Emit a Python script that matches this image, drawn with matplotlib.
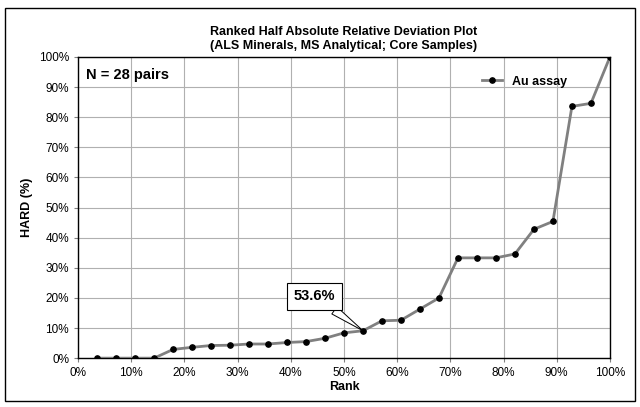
import numpy as np
import matplotlib.pyplot as plt
from matplotlib.ticker import PercentFormatter
from matplotlib.patches import Rectangle

plt.rcParams['font.family'] = ['Liberation Sans', 'DejaVu Sans']

# HARD values (%) ranked, 28 pairs
hard = [0.0, 0.0, 0.0, 0.0, 2.9, 3.6, 4.2, 4.3, 4.7, 4.7, 5.2, 5.5, 6.6, 8.4,
        9.1, 12.4, 12.6, 16.3, 20.0, 33.3, 33.3, 33.3, 34.6, 42.8, 45.4,
        83.6, 84.6, 100.0]
n_pairs = len(hard)
rank = [100.0 * (i + 1) / n_pairs for i in range(n_pairs)]
callout_idx = 14  # rank 53.6%

fig = plt.figure(figsize=(6.4, 4.07), dpi=100)
ax = fig.add_axes([0.122, 0.12, 0.831, 0.74])

ax.plot(rank, hard, color='#808080', lw=2, marker='o', ms=3.8,
        mfc='black', mec='black', label='Au assay', zorder=3)

ax.set_xlim(0, 100)
ax.set_ylim(0, 100)
ax.set_xticks(np.arange(0, 101, 10))
ax.set_yticks(np.arange(0, 101, 10))
ax.xaxis.set_major_formatter(PercentFormatter(decimals=0))
ax.yaxis.set_major_formatter(PercentFormatter(decimals=0))
ax.tick_params(labelsize=8.5, length=3, color='#808080')
ax.grid(True, color='#b0b0b0', lw=0.8)
for s in ax.spines.values():
    s.set_color('black')
    s.set_linewidth(1)

ax.set_xlabel('Rank', fontsize=9, fontweight='bold', labelpad=1)
ax.set_ylabel('HARD (%)', fontsize=9, fontweight='bold', labelpad=4)
ax.set_title('Ranked Half Absolute Relative Deviation Plot\n(ALS Minerals, MS Analytical; Core Samples)',
             fontsize=9, fontweight='bold', pad=6, linespacing=1.15)

ax.text(0.015, 0.965, f'N = {n_pairs} pairs', transform=ax.transAxes,
        fontsize=10.5, fontweight='bold', va='top', ha='left')

leg = ax.legend(loc='upper right', frameon=False, fontsize=9,
                bbox_to_anchor=(0.94, 0.975), handlelength=1.6)
for t in leg.get_texts():
    t.set_fontweight('bold')

xr = rank[callout_idx]
ax.annotate(f'{xr:.1f}%', xy=(xr, hard[callout_idx]), xytext=(44.5, 20.5),
            fontsize=10.5, fontweight='bold', ha='center', va='center',
            bbox=dict(boxstyle='square,pad=0.45', fc='white', ec='black', lw=0.8),
            arrowprops=dict(arrowstyle='wedge,tail_width=0.6', fc='white',
                            ec='black', lw=0.7, shrinkA=0, shrinkB=0),
            zorder=5)

fig.patches.append(Rectangle((0.008, 0.015), 0.984, 0.965, transform=fig.transFigure,
                             fill=False, ec='black', lw=1))

fig.savefig('out.png', dpi=100)
